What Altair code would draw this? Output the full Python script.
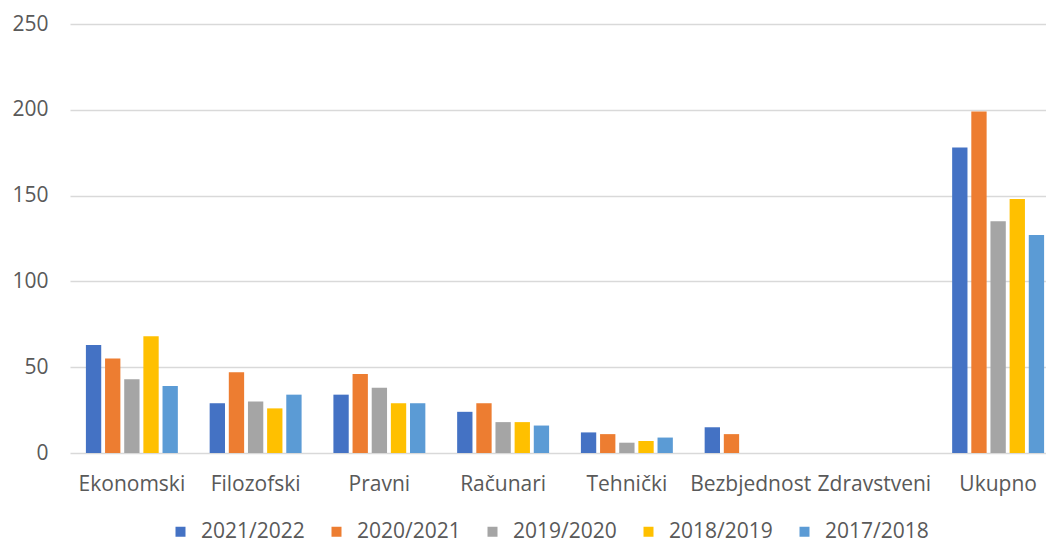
import altair as alt
import pandas as pd

categories = ["Ekonomski", "Filozofski", "Pravni", "Računari", "Tehnički",
              "Bezbjednost", "Zdravstveni", "Ukupno"]
series_names = ["2021/2022", "2020/2021", "2019/2020", "2018/2019", "2017/2018"]
s_2021_2022 = [63, 29, 34, 24, 12, 15, 0, 178]
s_2020_2021 = [55, 47, 46, 29, 11, 11, 0, 199]
s_2019_2020 = [43, 30, 38, 18, 6, 0, 0, 135]
s_2018_2019 = [68, 26, 29, 18, 7, 0, 0, 148]
s_2017_2018 = [39, 34, 29, 16, 9, 0, 0, 127]
colors = ["#4472C4", "#ED7D31", "#A5A5A5", "#FFC000", "#5B9BD5"]

all_series = [s_2021_2022, s_2020_2021, s_2019_2020, s_2018_2019, s_2017_2018]
rows = []
for name, vals in zip(series_names, all_series):
    for c, v in zip(categories, vals):
        rows.append({"Kategorija": c, "Godina": name, "Vrijednost": v})
df = pd.DataFrame(rows)

FONT = "Open Sans"
TXT = "#595959"

chart = alt.Chart(df).mark_bar().encode(
    x=alt.X("Kategorija:N", sort=categories, title=None,
            scale=alt.Scale(paddingInner=0.257, paddingOuter=0.1285, range=[0, 990]),
            axis=alt.Axis(labelAngle=0, labelFont=FONT, labelFontSize=21,
                          labelColor=TXT, ticks=False, domain=False,
                          labelPadding=20, grid=False)),
    xOffset=alt.XOffset("Godina:N", sort=series_names,
                        scale=alt.Scale(paddingInner=0.2, paddingOuter=0)),
    y=alt.Y("Vrijednost:Q", title=None,
            scale=alt.Scale(domain=[0, 250], nice=False),
            axis=alt.Axis(values=[0, 50, 100, 150, 200, 250], labelFont=FONT,
                          labelFontSize=21, labelColor=TXT, ticks=False,
                          domain=False, labelPadding=22, gridColor="#d9d9d9",
                          gridWidth=1.5)),
    color=alt.Color("Godina:N", sort=series_names,
                    scale=alt.Scale(domain=series_names, range=colors),
                    legend=alt.Legend(title=None, orient="none", direction="horizontal",
                                      legendX=100, legendY=497,
                                      symbolType="square", symbolSize=100,
                                      symbolStrokeWidth=0,
                                      labelFont=FONT, labelFontSize=21,
                                      labelColor=TXT, labelOffset=10,
                                      columnPadding=21)),
).properties(
    width=976, height=429,
    autosize=alt.AutoSizeParams(type="none"),
    padding={"left": 62, "top": 16, "right": 0, "bottom": 93},
).configure_view(stroke=None)

chart.save("out.html", embed_options={"renderer": "svg", "actions": False})
